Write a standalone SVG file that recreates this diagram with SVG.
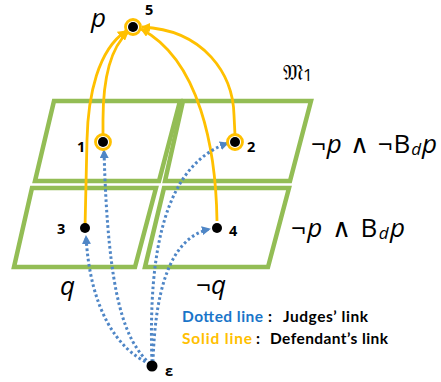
<svg xmlns="http://www.w3.org/2000/svg" width="441" height="382" viewBox="0 0 441 382">
<defs>
<style>
.world{fill:none;stroke:#93bd55;stroke-width:4.5;stroke-linejoin:miter}
.solid{fill:none;stroke:#ffc000;stroke-width:2.8}
.dot{fill:none;stroke:#4f86c6;stroke-width:3;stroke-dasharray:2.6,2.6}
.pt{fill:#000}
.ring{fill:none;stroke:#ffc000;stroke-width:2.8}
.num{font-family:"Open Sans","DejaVu Sans",sans-serif;font-weight:bold;font-size:14.5px;fill:#000}
.math{font-family:"Open Sans","DejaVu Sans",sans-serif;font-size:26px;fill:#000}
.thin{font-family:"DejaVu Sans",sans-serif;font-weight:200}
.leg{font-family:Lato,"Liberation Sans",sans-serif;font-weight:bold;font-size:15.5px}
</style>
<marker id="ay" viewBox="0 0 10 10" refX="9" refY="5" markerWidth="3.2" markerHeight="3.2" orient="auto" markerUnits="strokeWidth"><path d="M0,0 L10,5 L0,10 z" fill="#ffc000"/></marker>
<marker id="ab" viewBox="0 0 10 10" refX="9" refY="5" markerWidth="3" markerHeight="3" orient="auto" markerUnits="strokeWidth"><path d="M0,0 L10,5 L0,10 z" fill="#4f86c6"/></marker>
</defs>
<g id="worlds">
<polygon id="w-tl" class="world" points="54,101 180,101 159,181 35,181"/>
<polygon id="w-tr" class="world" points="183,101 311,101 290,181 165,181"/>
<polygon id="w-bl" class="world" points="32,188 156,188 135,267 14,267"/>
<polygon id="w-br" class="world" points="164,188 289,188 268,267 145,267"/>
</g>
<g id="connectors">
<path class="solid" d="M85,228 L87,140 C88,95 98,50 126,31" marker-end="url(#ay)"/>
<path class="solid" d="M103,135 L103,120 C103,85 108,50 128,32" marker-end="url(#ay)"/>
<path class="solid" d="M217,221 C216,150 200,60 141,29" marker-end="url(#ay)"/>
<path class="solid" d="M235,135 L234,115 C233,75 205,30 142,27" marker-end="url(#ay)"/>
<path class="dot" d="M150,364 C118,350 90,310 86,236" marker-end="url(#ab)"/>
<path class="dot" d="M150,364 C125,340 108,300 104,150" marker-end="url(#ab)"/>
<path class="dot" d="M152,362 C148,250 165,165 228,143" marker-end="url(#ab)"/>
<path class="dot" d="M153,362 C155,295 168,238 210,229" marker-end="url(#ab)"/>
</g>
<g id="n5"><circle class="ring" cx="133" cy="27" r="7.5"/><circle class="pt" cx="133" cy="27" r="5"/><text class="num" x="145" y="15">5</text></g>
<g id="n1"><circle class="ring" cx="103" cy="142" r="7.5"/><circle class="pt" cx="103" cy="142" r="5"/><text class="num" x="77" y="152">1</text></g>
<g id="n2"><circle class="ring" cx="235" cy="142" r="7.5"/><circle class="pt" cx="235" cy="142" r="5"/><text class="num" x="247" y="152">2</text></g>
<g id="n3"><circle class="pt" cx="85" cy="228" r="5"/><text class="num" x="57" y="234">3</text></g>
<g id="n4"><circle class="pt" cx="217" cy="228" r="5"/><text class="num" x="229" y="236">4</text></g>
<g id="ne"><circle class="pt" cx="152" cy="366" r="5.5"/><text class="num" x="165" y="376" font-size="16">ε</text></g>
<g id="labels">
<text class="math" x="91" y="27" font-style="italic" font-size="31">p</text>
<text x="283" y="80" font-family="'DejaVu Serif','DejaVu Sans',serif" font-size="22" fill="#000">𝔐<tspan font-family="'Open Sans',sans-serif" font-size="17" dy="1">1</tspan></text>
<text class="math" x="311" y="153" textLength="126" lengthAdjust="spacing">¬<tspan font-style="italic">p</tspan> <tspan class="thin">∧</tspan> ¬B<tspan font-style="italic" font-size="17" dy="2">d</tspan><tspan font-style="italic" dy="-2">p</tspan></text>
<text class="math" x="291" y="237" textLength="114" lengthAdjust="spacing">¬<tspan font-style="italic">p</tspan> <tspan class="thin">∧</tspan> B<tspan font-style="italic" font-size="17" dy="2">d</tspan><tspan font-style="italic" dy="-2">p</tspan></text>
<text class="math" x="60" y="295" font-style="italic" font-size="34">q</text>
<text class="math" x="196" y="294" font-size="32">¬<tspan font-style="italic">q</tspan></text>
<text class="leg" x="182" y="322" fill="#1a75c9" textLength="81" lengthAdjust="spacing">Dotted line</text>
<text class="leg" x="268" y="322" fill="#000">:</text>
<text class="leg" x="283" y="322" fill="#000" textLength="85" lengthAdjust="spacing">Judges’ link</text>
<text class="leg" x="182" y="344" fill="#ffc000" textLength="70" lengthAdjust="spacing">Solid line</text>
<text class="leg" x="256" y="344" fill="#000">:</text>
<text class="leg" x="270" y="344" fill="#000" textLength="118" lengthAdjust="spacing">Defendant’s link</text>
</g>
</svg>
